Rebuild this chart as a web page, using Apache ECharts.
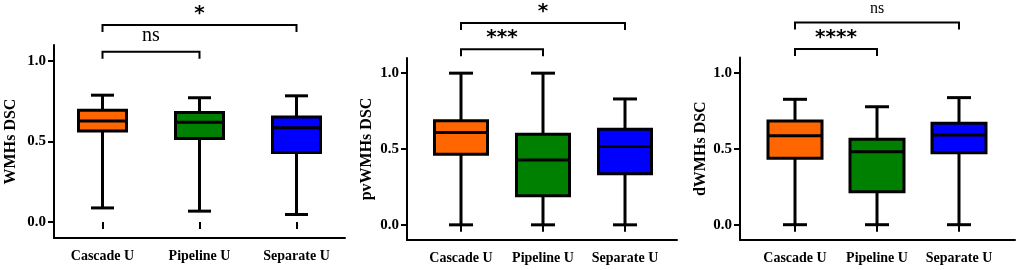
<!DOCTYPE html>
<html>
<head>
<meta charset="utf-8">
<script src="https://cdn.jsdelivr.net/npm/echarts@6/dist/echarts.min.js"></script>
<style>
  html, body { margin: 0; padding: 0; background: #fff; }
  #chart { width: 1021px; height: 270px; }
</style>
</head>
<body>
<div id="chart"></div>
<script>
// categories and values
const categories = ['Cascade U', 'Pipeline U', 'Separate U'];
const yTicks = [0, 0.5, 1.0];
const yNames = ['WMHs DSC', 'pvWMHs DSC', 'dWMHs DSC'];
// [min, q1, median, q3, max] per category
const wmhsBox = [[0.087, 0.566, 0.628, 0.695, 0.788], [0.067, 0.519, 0.620, 0.681, 0.772], [0.046, 0.432, 0.585, 0.653, 0.784]];
const pvwmhsBox = [[0.0, 0.466, 0.608, 0.686, 1.0], [0.0, 0.191, 0.428, 0.598, 1.0], [0.0, 0.336, 0.516, 0.631, 0.830]];
const dwmhsBox = [[0.0, 0.437, 0.586, 0.682, 0.825], [0.0, 0.217, 0.480, 0.562, 0.776], [0.0, 0.474, 0.590, 0.667, 0.836]];
const boxColors = ['#ff6600', '#008000', '#0000ff'];
// significance: pairs of category indexes and label per panel
const sigPairs = [[0, 1], [0, 2]];
const sigLabels = [['ns', '*'], ['***', '*'], ['****', 'ns']];

const boxes = [wmhsBox, pvwmhsBox, dwmhsBox];

// layout of the three panels
const panels = [
  { frame: { left: 54, top: 45, width: 291, height: 193 }, band: { left: 54, width: 291 }, boxW: 48, cap: 23, levels: [1.058, 1.224], nameGap: 35 },
  { frame: { left: 407, top: 58, width: 270, height: 182 }, band: { left: 420, width: 246 }, boxW: 53, cap: 24, levels: [1.158, 1.33], nameGap: 32 },
  { frame: { left: 740, top: 57.5, width: 275, height: 182.4 }, band: { left: 754, width: 246 }, boxW: 54, cap: 24, levels: [1.156, 1.33], nameGap: 27 }
];

const FONT = '"Liberation Serif", "Times New Roman", serif';

const grid = [], xAxis = [], yAxis = [], series = [];

panels.forEach(function (p, i) {
  const fi = i * 2, di = i * 2 + 1;
  grid.push({ left: p.frame.left, top: p.frame.top, width: p.frame.width, height: p.frame.height });
  grid.push({ left: p.band.left, top: p.frame.top, width: p.band.width, height: p.frame.height });

  // frame axes: axis lines, y ticks and labels
  xAxis.push({
    gridIndex: fi, type: 'value', min: 0, max: 1,
    axisLine: { show: true, onZero: false, lineStyle: { color: '#000', width: 2 } },
    axisTick: { show: false }, axisLabel: { show: false }, splitLine: { show: false }
  });
  yAxis.push({
    gridIndex: fi, type: 'value', min: -0.1, max: 1.1,
    name: yNames[i], nameLocation: 'middle', nameGap: p.nameGap,
    nameTextStyle: { fontFamily: FONT, fontWeight: 'bold', fontSize: 16, color: '#000' },
    axisLine: { show: true, lineStyle: { color: '#000', width: 2 } },
    axisTick: { show: true, length: 6, customValues: yTicks, lineStyle: { color: '#000', width: 2 } },
    axisLabel: {
      customValues: yTicks, margin: 8, color: '#000', fontFamily: FONT, fontWeight: 'bold', fontSize: 15,
      formatter: function (v) { return v.toFixed(1); }
    },
    splitLine: { show: false }
  });

  // data axes: categories
  xAxis.push({
    gridIndex: di, type: 'category', data: categories, boundaryGap: true,
    axisLine: { show: false },
    axisTick: { show: true, interval: 0, alignWithLabel: true, length: 7, lineStyle: { color: '#000', width: 2 } },
    axisLabel: { interval: 0, hideOverlap: false, margin: 11, color: '#000', fontFamily: FONT, fontWeight: 'bold', fontSize: 14 }
  });
  yAxis.push({ gridIndex: di, type: 'value', min: -0.1, max: 1.1, show: false });

  series.push({
    type: 'custom', xAxisIndex: di, yAxisIndex: di, clip: false,
    encode: { x: 0, y: [1, 2, 3, 4, 5] },
    data: boxes[i].map(function (b, k) { return [k].concat(b); }),
    renderItem: function (params, api) {
      const k = api.value(0);
      const pMin = api.coord([k, api.value(1)]);
      const pQ1 = api.coord([k, api.value(2)]);
      const pMed = api.coord([k, api.value(3)]);
      const pQ3 = api.coord([k, api.value(4)]);
      const pMax = api.coord([k, api.value(5)]);
      const x = pMed[0], hw = p.boxW / 2, hc = p.cap / 2;
      const line = { stroke: '#000', lineWidth: 3 };
      return {
        type: 'group',
        children: [
          { type: 'line', shape: { x1: x, y1: pMax[1], x2: x, y2: pQ3[1] }, style: line },
          { type: 'line', shape: { x1: x, y1: pQ1[1], x2: x, y2: pMin[1] }, style: line },
          { type: 'line', shape: { x1: x - hc, y1: pMax[1], x2: x + hc, y2: pMax[1] }, style: line },
          { type: 'line', shape: { x1: x - hc, y1: pMin[1], x2: x + hc, y2: pMin[1] }, style: line },
          { type: 'rect', shape: { x: x - hw, y: pQ3[1], width: p.boxW, height: pQ1[1] - pQ3[1] },
            style: { fill: boxColors[k], stroke: '#000', lineWidth: 3 } },
          { type: 'line', shape: { x1: x - hw, y1: pMed[1], x2: x + hw, y2: pMed[1] }, style: line }
        ]
      };
    }
  });

  // significance brackets
  series.push({
    type: 'custom', xAxisIndex: di, yAxisIndex: di, clip: false,
    encode: { x: [0, 1], y: 2 },
    data: sigPairs.map(function (pr, j) { return [pr[0], pr[1], p.levels[j], j]; }),
    renderItem: function (params, api) {
      const a = api.coord([api.value(0), api.value(2)]);
      const b = api.coord([api.value(1), api.value(2)]);
      const label = sigLabels[i][api.value(3)];
      const isNs = label === 'ns';
      const drop = 7;
      return {
        type: 'group',
        children: [
          { type: 'polyline', shape: { points: [[a[0], a[1] + drop], [a[0], a[1]], [b[0], b[1]], [b[0], b[1] + drop]] },
            style: { stroke: '#000', lineWidth: 2, fill: null } },
          { type: 'text', style: {
              text: label, x: (a[0] + b[0]) / 2, y: a[1] - (isNs ? 6 : 1),
              align: 'center', verticalAlign: 'bottom', fill: '#000',
              fontFamily: isNs ? FONT : '"DejaVu Sans", sans-serif',
              fontWeight: isNs ? 'normal' : 'bold', fontSize: isNs ? (i === 0 ? 20 : 16) : 20
            } }
        ]
      };
    }
  });
});

const chart = echarts.init(document.getElementById('chart'), null, { renderer: 'canvas' });
chart.setOption({ animation: false, backgroundColor: '#fff', grid: grid, xAxis: xAxis, yAxis: yAxis, series: series });
</script>
</body>
</html>
